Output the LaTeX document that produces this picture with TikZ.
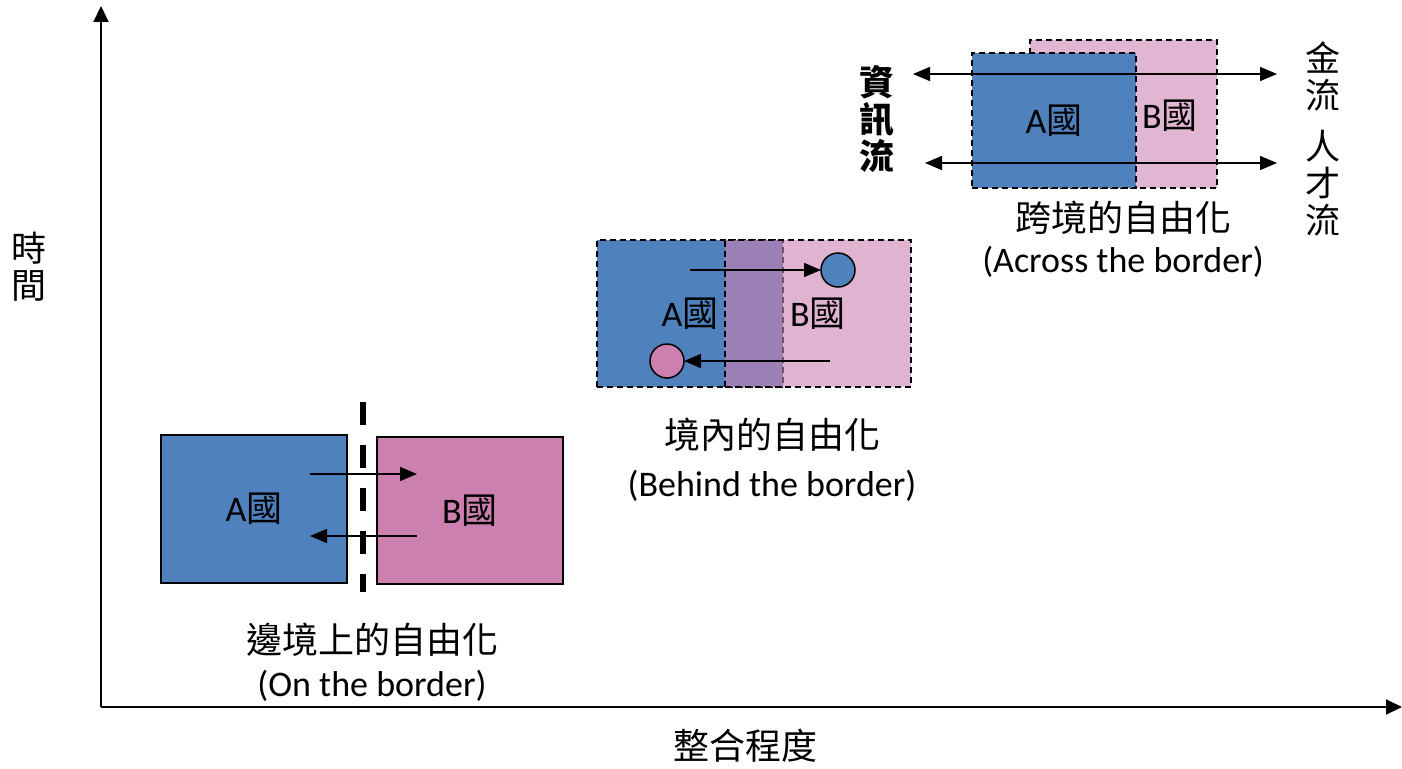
\documentclass[tikz,border=0pt]{standalone}
\usepackage{fontspec}
\setmainfont{Carlito}
\newfontfamily\cjk{Noto Sans CJK TC}
\usetikzlibrary{arrows.meta}
\definecolor{cblue}{HTML}{4F81BD}
\definecolor{cpink}{HTML}{CC80B0}
\definecolor{clight}{HTML}{E0B6D2}
\tikzset{
  box/.style={draw=black, line width=1.2pt, inner sep=0pt, outer sep=0pt},
  dbox/.style={box, line width=1.5pt, dash pattern=on 6pt off 4pt},
  flow/.style={line width=1.5pt, -{Triangle[length=17pt,width=14pt]}},
  dflow/.style={line width=1.5pt, {Triangle[length=17pt,width=14pt]}-{Triangle[length=17pt,width=14pt]}},
  axis/.style={line width=2pt, -{Triangle[length=16pt,width=15pt]}},
  dot/.style={circle, draw=black, line width=1.5pt, minimum size=34pt, inner sep=0pt, outer sep=0pt},
  vtext/.style={align=center, font=\fontsize{35}{37}\selectfont\cjk, inner sep=0pt},
  lbl/.style={inner sep=0pt}
}
\begin{document}
\begin{tikzpicture}[x=1pt,y=-1pt,font=\fontsize{36}{40}\selectfont]
\useasboundingbox (0,0) rectangle (1402,768);
% axes
\coordinate (o) at (101,707);
\coordinate (ytop) at (101,6);
\coordinate (xend) at (1402,707);
\draw[axis] (o) -- (ytop);
\draw[axis] (o) -- (xend);
\node[vtext] (ylab) at (29,267) {時\\間};
\node[lbl] (xlab) at (745,746) {\cjk 整合程度};

% ---- on the border
\node[box, fill=cblue, minimum width=186pt, minimum height=148pt] (a1) at (254,509) {A{\cjk 國}};
\node[box, fill=cpink, minimum width=186pt, minimum height=147pt] (b1) at (470,510.5) {B{\cjk 國}};
\coordinate (d1) at (363,402);
\coordinate (d2) at (363,592);
\draw[line width=5.5pt, dash pattern=on 23pt off 20pt] (d1) -- (d2);
\coordinate (r1s) at (310,474);
\coordinate (r1e) at (417,474);
\coordinate (l1s) at (417,536);
\coordinate (l1e) at (310,536);
\draw[flow] (r1s) -- (r1e);
\draw[flow] (l1s) -- (l1e);
\node[lbl] (t1) at (372,640) {\cjk 邊境上的自由化};
\node[lbl] (e1) at (372,686) {(On the border)};

% ---- behind the border
\node[dbox, fill=cblue, minimum width=186pt, minimum height=147pt] (a2) at (690,313.5) {A{\cjk 國}};
\node[dbox, fill=cpink, fill opacity=0.6, text opacity=1, minimum width=186pt, minimum height=147pt] (b2) at (818,313.5) {B{\cjk 國}};
\node[dot, fill=cblue] (c1) at (838,270) {};
\node[dot, fill=cpink] (c2) at (667,361) {};
\coordinate (m1s) at (690,270);
\coordinate (m2s) at (830,361);
\draw[flow] (m1s) -- (c1);
\draw[flow] (m2s) -- (c2);
\node[lbl] (t2) at (772,435) {\cjk 境內的自由化};
\node[lbl] (e2) at (772,486) {(Behind the border)};

% ---- across the border
\node[dbox, fill=clight, minimum width=187pt, minimum height=148pt] (b3) at (1123.5,114) {};
\node[dbox, fill=cblue, minimum width=164pt, minimum height=135pt] (a3) at (1054,120.5) {A{\cjk 國}};
\node[lbl] (b3t) at (1170,116) {B{\cjk 國}};
\coordinate (f1s) at (913,74);
\coordinate (f1e) at (1277,74);
\coordinate (f2s) at (925,163);
\coordinate (f2e) at (1277,163);
\draw[dflow] (f1s) -- (f1e);
\draw[dflow] (f2s) -- (f2e);
\node[vtext, font=\fontsize{35}{37}\selectfont\cjk\bfseries] (info) at (877,119) {資\\訊\\流};
\node[vtext] (money) at (1323,76) {金\\流};
\node[vtext] (talent) at (1323,183) {人\\才\\流};
\node[lbl] (t3) at (1123,218) {\cjk 跨境的自由化};
\node[lbl] (e3) at (1123,262) {(Across the border)};
\end{tikzpicture}
\end{document}
